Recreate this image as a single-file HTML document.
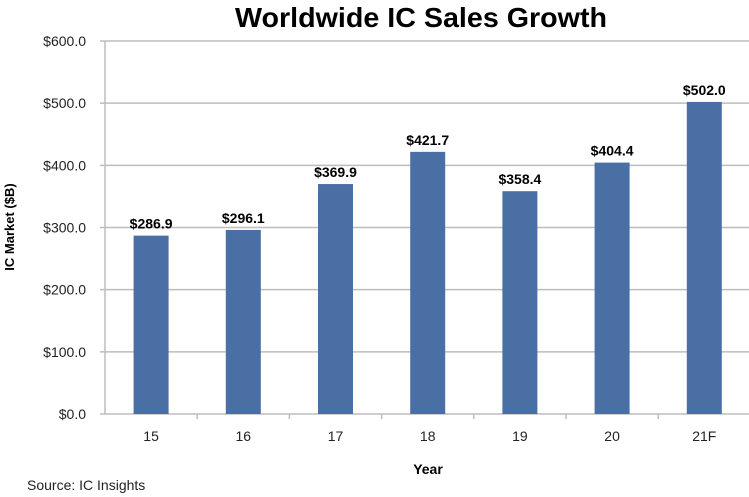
<!DOCTYPE html>
<html><head><meta charset="utf-8"><style>
html,body{margin:0;padding:0;background:#fff;}
svg{display:block;font-family:"Liberation Sans",Calibri,sans-serif;}
</style></head><body>
<svg width="749" height="497" viewBox="0 0 749 497" id="chart">
<text x="421" y="27" text-anchor="middle" font-size="28" font-weight="bold" fill="#000" textLength="372" lengthAdjust="spacingAndGlyphs">Worldwide IC Sales Growth</text>
<text transform="translate(14,227) rotate(-90)" text-anchor="middle" font-size="13" font-weight="bold" fill="#000">IC Market ($B)</text>
<text x="428" y="474" text-anchor="middle" font-size="14" font-weight="bold" fill="#000">Year</text>
<text x="27" y="490" font-size="14" fill="#222">Source:  IC Insights</text>
<g id="plot"></g>
</svg>
<script>
const categories = ["15","16","17","18","19","20","21F"];
const values = [286.9,296.1,369.9,421.7,358.4,404.4,502.0];
const valueLabels = ["$286.9","$296.1","$369.9","$421.7","$358.4","$404.4","$502.0"];
const yTicks = [0,100,200,300,400,500,600];
const yTickLabels = ["$0.0","$100.0","$200.0","$300.0","$400.0","$500.0","$600.0"];

const NS="http://www.w3.org/2000/svg";
const g=document.getElementById('plot');
const x0=105, step=92.2, y0=414, yTop=41, yMax=600, barW=35;
const y=v=>y0-(v/yMax)*(y0-yTop);
const xc=i=>x0+step*(i+0.5);
function mk(t,a){const e=document.createElementNS(NS,t);for(const k in a)e.setAttribute(k,a[k]);g.appendChild(e);return e;}
yTicks.forEach((t,i)=>{
  const l=mk('line',{x1:x0-5,x2:749,y1:y(t),y2:y(t),stroke:'#bdbdbd','stroke-width':1.5});
  
  
  const tx=mk('text',{x:x0-19,y:y(t)+5,'text-anchor':'end','font-size':14,fill:'#222'});
  tx.textContent=yTickLabels[i];
  
  
});
const ax=mk('line',{x1:x0,x2:x0,y1:yTop,y2:y0,stroke:'#bdbdbd','stroke-width':1.5});


categories.forEach((c,i)=>{
  const tk=mk('line',{x1:x0+step*(i+1),x2:x0+step*(i+1),y1:y0,y2:y0+5,stroke:'#bdbdbd','stroke-width':1.5});
  
  
  const r=mk('rect',{x:xc(i)-barW/2,y:y(values[i]),width:barW,height:y0-y(values[i]),fill:'#4a6fa5'});
  
  
  const vl=mk('text',{x:xc(i),y:y(values[i])-7,'text-anchor':'middle','font-size':14,'font-weight':'bold',fill:'#000'});
  vl.textContent=valueLabels[i];
  
  
  const cl=mk('text',{x:xc(i),y:y0+27,'text-anchor':'middle','font-size':14,fill:'#222'});
  cl.textContent=c;
  
  
});
</script>
</body></html>
